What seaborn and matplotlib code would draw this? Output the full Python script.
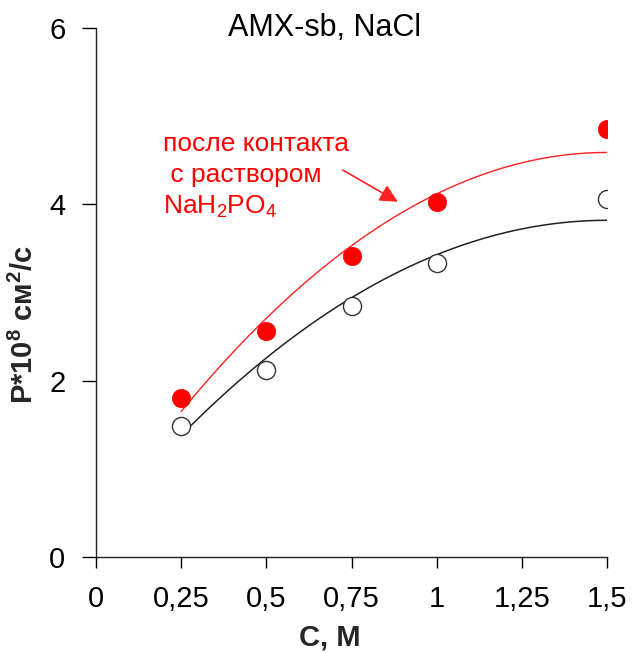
import numpy as np
import pandas as pd
import matplotlib
matplotlib.use("Agg")
import matplotlib.pyplot as plt
import seaborn as sns

# ---- data ----
conc = [0.25, 0.5, 0.75, 1.0, 1.5]
p_after = [1.80, 2.56, 3.42, 4.03, 4.86]      # red filled: after contact with NaH2PO4
p_before = [1.49, 2.12, 2.85, 3.34, 4.06]     # open circles

curve_x = [0.25, 0.5, 0.75, 1.0, 1.25, 1.5]
curve_after = [1.65, 2.71, 3.53, 4.12, 4.47, 4.59]
curve_before = [1.38, 2.26, 2.94, 3.43, 3.72, 3.82]

x_ticks = [0, 0.25, 0.5, 0.75, 1.0, 1.25, 1.5]
x_tick_labels = ["0", "0,25", "0,5", "0,75", "1", "1,25", "1,5"]
y_ticks = [0, 2, 4, 6]

title = "AMX-sb, NaCl"
annot_lines = ["после контакта", " с раствором", "NaH$_2$PO$_4$"]

sns.set_theme(style="ticks")
plt.rcParams['font.family'] = ['Liberation Sans', 'DejaVu Sans']
plt.rcParams['mathtext.fontset'] = 'custom'
plt.rcParams['mathtext.rm'] = 'Liberation Sans'
plt.rcParams['mathtext.bf'] = 'Liberation Sans:bold'
plt.rcParams['mathtext.default'] = 'regular'

fig = plt.figure(figsize=(6.37, 6.53), dpi=100)
ax = fig.add_axes([0.1507, 0.147, 0.8023, 0.810])

df_pts = pd.DataFrame({"C": conc, "after": p_after, "before": p_before})
df_cur = pd.DataFrame({"C": curve_x, "after": curve_after, "before": curve_before})

sns.regplot(data=df_cur, x="C", y="after", order=2, scatter=False, ci=None,
            truncate=True, ax=ax, line_kws=dict(color="#ff2020", lw=1.0))
sns.regplot(data=df_cur, x="C", y="before", order=2, scatter=False, ci=None,
            truncate=True, ax=ax, line_kws=dict(color="#222222", lw=1.1))

sns.scatterplot(data=df_pts, x="C", y="after", ax=ax, s=175, color="#ff0000",
                edgecolor="#ff0000", linewidth=0.5, zorder=5)
sns.scatterplot(data=df_pts, x="C", y="before", ax=ax, s=170, facecolor="white",
                edgecolor="#333333", linewidth=1.0, zorder=5)

ax.set_xlim(0, 1.5)
ax.set_ylim(0, 6)
ax.set_xticks(x_ticks)
ax.set_xticklabels(x_tick_labels)
ax.set_yticks(y_ticks)
ax.tick_params(axis="both", labelsize=21, colors="black", width=1.0)
ax.tick_params(axis="x", length=8, pad=12)
ax.tick_params(axis="y", length=10, pad=12)
for s in ["top", "right"]:
    ax.spines[s].set_visible(False)
for s in ["left", "bottom"]:
    ax.spines[s].set_color("#222222")
    ax.spines[s].set_linewidth(1.0)

ax.set_xlabel("С, М", fontsize=21, fontweight="bold")
ax.xaxis.set_label_coords(0.458, -0.125)
ax.set_ylabel("P*10$^{\\mathbf{8}}$ см$^{\\mathbf{2}}$/с", fontsize=21, fontweight="bold")
ax.yaxis.set_label_coords(-0.112, 0.439)

ax.text(0.448, 1.0, title, transform=ax.transAxes, fontsize=22,
        ha="center", va="center", color="black")

for i, line in enumerate(annot_lines):
    ax.text(0.197, 4.69 - i * 0.36, line, fontsize=19, color="#ff0000",
            ha="left", va="center")

ax.annotate("", xy=(0.886, 4.03), xytext=(0.724, 4.39),
            arrowprops=dict(arrowstyle="-|>,head_length=0.9,head_width=0.45",
                            color="#ff2020", lw=1.2, shrinkA=0, shrinkB=0))

ax.set_facecolor("white")
fig.savefig("out.png", dpi=100, facecolor="white")
